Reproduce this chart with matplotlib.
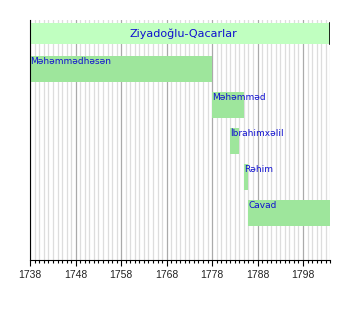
import matplotlib
matplotlib.use('Agg')
import matplotlib.pyplot as plt
from matplotlib.ticker import MultipleLocator

# Datos de la línea de tiempo
titulo = 'Ziyadoğlu-Qacarlar'
nombres = ['Məhəmmədhəsən', 'Məhəmməd', 'İbrahimxəlil', 'Rəhim', 'Cavad']
inicio = [1738, 1778, 1782, 1785, 1786]
fin = [1778, 1785, 1784, 1786, 1804]
x_min, x_max = 1738, 1804
ticks = [1738, 1748, 1758, 1768, 1778, 1788, 1798]

verde = '#9ee69c'
verde_claro = '#c0ffc0'
azul = '#1010d0'

fig = plt.figure(figsize=(3.5, 3.2), dpi=100)
ax = fig.add_axes([30.3/350, 1 - 260/320, 300/350, 240/320])

# rejilla anual y decenal
for a in range(x_min, x_max + 1):
    col = '#aaaaaa' if (a - x_min) % 10 == 0 else '#dddddd'
    ax.axvline(a, color=col, lw=0.9, zorder=0)

# barra del título
ax.barh(0, x_max - x_min, left=x_min, height=0.58, color=verde_claro, zorder=2)
ax.text((x_min + x_max)/2 + 0.7, 0, titulo, color=azul, fontsize=8,
        ha='center', va='center', zorder=3)
ax.plot([x_max, x_max], [-0.29, 0.29], color='black', lw=1.2, zorder=3)

# barras de cada gobernante
for i in range(len(nombres)):
    fila = i + 1
    ax.barh(fila, fin[i] - inicio[i], left=inicio[i], height=0.72,
            color=verde, zorder=2)
    ax.text(inicio[i], fila - 0.21, nombres[i], color=azul, fontsize=6.5,
            ha='left', va='center', zorder=3)

ax.set_xlim(x_min, x_max)
ax.set_ylim(6.3, -0.37)
ax.set_xticks(ticks)
ax.xaxis.set_minor_locator(MultipleLocator(1))
ax.set_yticks([])
ax.tick_params(axis='x', which='major', length=4, width=0.8,
               labelsize=7.5, labelcolor='#222222', pad=3)
ax.tick_params(axis='x', which='minor', length=2.2, width=0.8)
for lab in ax.get_xticklabels():
    lab.set_fontfamily('Liberation Sans')
ax.spines['top'].set_visible(False)
ax.spines['right'].set_visible(False)

fig.savefig('out.png', dpi=100)
